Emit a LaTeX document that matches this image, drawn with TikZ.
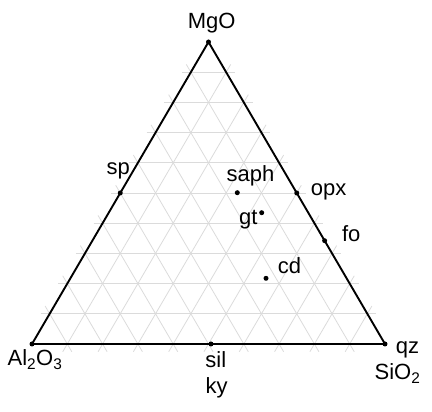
\documentclass[tikz,border=0pt]{standalone}
\usepackage{fontspec}
\setmainfont{Liberation Sans}
\usetikzlibrary{calc}
\begin{document}
\begin{tikzpicture}[x=1pt,y=1pt,
  gridline/.style={draw=black!14, line width=0.8pt},
  edge/.style={draw=black, line width=1.9pt, line join=round},
  dotmark/.style={circle, fill=black, inner sep=0pt, minimum size=5pt},
  lbl/.style={inner sep=0pt, anchor=base, font=\fontsize{22}{26}\selectfont}]
\useasboundingbox (0,0) rectangle (432,412);
\coordinate (A) at (32,68);
\coordinate (B) at (385,68);
\coordinate (C) at (208.5,370);
% grid
\foreach \i in {1,...,9} {
  \pgfmathsetmacro\f{\i/10}
  \coordinate (p1) at ($(A)!\f!(C)$);
  \coordinate (q1) at ($(B)!\f!(C)$);
  \draw[gridline] ($(p1)!-9pt!(q1)$) -- ($(q1)!-9pt!(p1)$);
  \coordinate (p2) at ($(A)!\f!(B)$);
  \coordinate (q2) at ($(A)!\f!(C)$);
  \draw[gridline] ($(p2)!-9pt!(q2)$) -- ($(q2)!-9pt!(p2)$);
  \coordinate (p3) at ($(B)!\f!(A)$);
  \coordinate (q3) at ($(B)!\f!(C)$);
  \draw[gridline] ($(p3)!-9pt!(q3)$) -- ($(q3)!-9pt!(p3)$);
}
% triangle
\draw[edge] (A) -- (B) -- (C) -- cycle;
% dots
\node[dotmark] (dMgO) at (C) {};
\node[dotmark] (dAl) at (A) {};
\node[dotmark] (dSi) at (B) {};
\node[dotmark] (dsp) at ($(A)!0.5!(C)$) {};
\node[dotmark] (dopx) at ($(B)!0.5!(C)$) {};
\node[dotmark] (dfo) at ($(B)!0.342!(C)$) {};
\node[dotmark] (dsaph) at (237.3,219.3) {};
\node[dotmark] (dgt) at (261.7,199.3) {};
\node[dotmark] (dcd) at (266,133.7) {};
\node[dotmark] (dsil) at (211,68) {};
% labels
\node[lbl] (lMgO) at (211.7,383.7) {MgO};
\node[lbl] (lAl) at (35,46) {Al\textsubscript{2}O\textsubscript{3}};
\node[lbl] (lqz) at (407.5,58) {qz};
\node[lbl] (lSi) at (397.5,32) {SiO\textsubscript{2}};
\node[lbl] (lsp) at (118.3,237.7) {sp};
\node[lbl] (lopx) at (328.7,216) {opx};
\node[lbl] (lfo) at (351.3,170.3) {fo};
\node[lbl] (lsaph) at (250.5,230.3) {saph};
\node[lbl] (lgt) at (248.3,187) {gt};
\node[lbl] (lcd) at (289.5,138) {cd};
\node[lbl] (lsil) at (215.8,44.7) {sil};
\node[lbl] (lky) at (216.7,18.7) {ky};
\end{tikzpicture}
\end{document}
